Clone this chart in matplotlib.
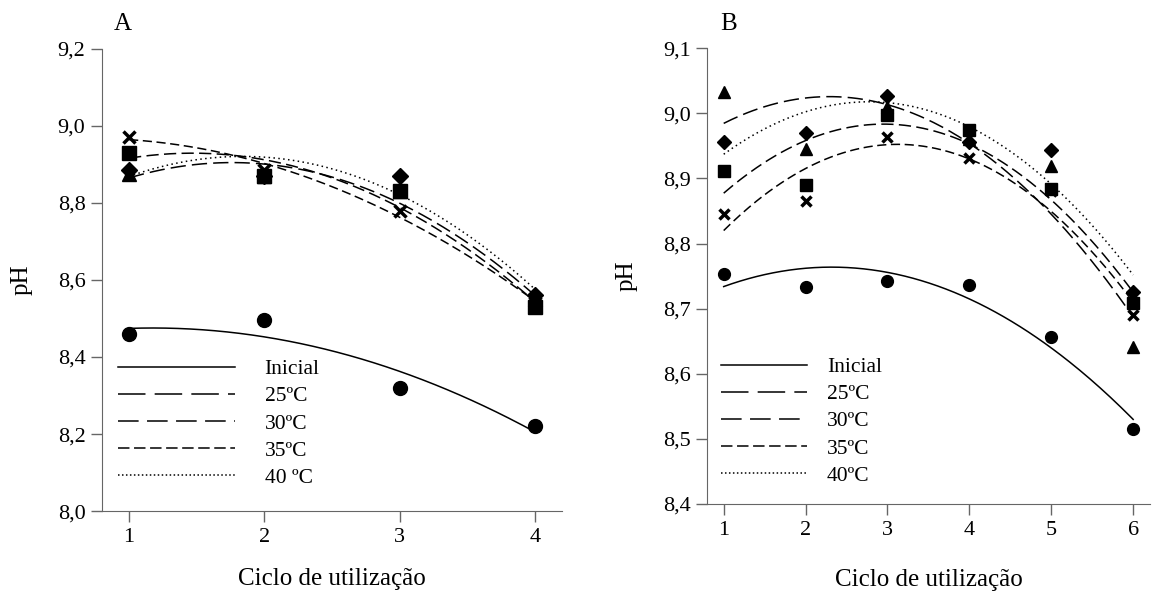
import matplotlib
matplotlib.use('Agg')
import matplotlib.pyplot as plt
from matplotlib.lines import Line2D
import numpy as np

plt.rcParams['font.family'] = ['Liberation Serif', 'DejaVu Serif']

# panel A data
ciclos_a = [1, 2, 3, 4]
inicial_a = [8.46, 8.495, 8.32, 8.22]
t25_a = [8.875, 8.87, 8.83, 8.55]
t30_a = [8.93, 8.87, 8.83, 8.53]
t35_a = [8.97, 8.885, 8.78, 8.54]
t40_a = [8.885, 8.87, 8.87, 8.56]

# panel B data
ciclos_b = [1, 2, 3, 4, 5, 6]
inicial_b = [8.753, 8.733, 8.743, 8.736, 8.656, 8.515]
t25_b = [9.032, 8.945, 9.01, 8.96, 8.919, 8.641]
t30_b = [8.912, 8.89, 8.997, 8.974, 8.883, 8.708]
t35_b = [8.846, 8.866, 8.963, 8.931, 8.88, 8.69]
t40_b = [8.956, 8.970, 9.026, 8.956, 8.944, 8.726]

labels_a = ['Inicial', '25ºC', '30ºC', '35ºC', '40 ºC']
labels_b = ['Inicial', '25ºC', '30ºC', '35ºC', '40ºC']

markers = ['o', '^', 's', 'x', 'D']
dashes = [None, (10, 4), (8, 3.5), (6, 3), (1, 2.2)]
# legend handles use longer dash patterns, as in the original
leg_dashes = [None, (18, 6), (13.5, 5.5), (7.5, 3), (1, 1.6)]


def draw(ax, x, series, labels, msize, hl, pad, anchor, xpad):
    xs = np.linspace(min(x), max(x), 200)
    handles = []
    for y, m, d, ld in zip(series, markers, dashes, leg_dashes):
        # quadratic regression curve for each series
        c = np.polyfit(x, y, 2)
        yy = np.polyval(c, xs)
        if d is None:
            ax.plot(xs, yy, color='black', lw=1.1)
        else:
            ax.plot(xs, yy, color='black', lw=1.1, dashes=d)
        if m == 'x':
            ax.plot(x, y, m, color='black', ms=msize * 0.9, mew=2.5)
        elif m == 'D':
            ax.plot(x, y, m, color='black', ms=msize * 0.8)
        else:
            ax.plot(x, y, m, color='black', ms=msize)
        h = Line2D([], [], color='black', lw=1.1)
        if ld is not None:
            h.set_dashes(ld)
        handles.append(h)
    ax.legend(handles, labels, loc='lower left', frameon=False, fontsize=15.5,
              handlelength=hl, handletextpad=pad, labelspacing=0.33,
              borderaxespad=0.0, borderpad=0.0, bbox_to_anchor=anchor)
    for s in ['top', 'right']:
        ax.spines[s].set_visible(False)
    for s in ['left', 'bottom']:
        ax.spines[s].set_color('#666666')
    ax.tick_params(direction='out', length=8, width=1, color='#666666',
                   labelsize=16, pad=4)
    ax.set_xlabel('Ciclo de utilização', fontsize=18, labelpad=xpad)
    ax.set_ylabel('pH', fontsize=18, labelpad=18)


fig = plt.figure(figsize=(11.73, 5.95), dpi=100)

ax1 = fig.add_axes([0.087, 0.141, 0.392, 0.777])
draw(ax1, ciclos_a, [inicial_a, t25_a, t30_a, t35_a, t40_a], labels_a,
     10, 5.45, 1.35, (0.035, 0.05), 15)
ax1.set_xlim(0.8, 4.2)
ax1.set_ylim(8.0, 9.2)
ax1.set_xticks([1, 2, 3, 4])
ax1.set_yticks([8.0, 8.2, 8.4, 8.6, 8.8, 9.0, 9.2])
ax1.set_yticklabels(['8,0', '8,2', '8,4', '8,6', '8,8', '9,0', '9,2'])
ax1.text(0.025, 1.04, 'A', transform=ax1.transAxes, fontsize=18)

ax2 = fig.add_axes([0.603, 0.153, 0.377, 0.766])
draw(ax2, ciclos_b, [inicial_b, t25_b, t30_b, t35_b, t40_b], labels_b,
     8.5, 4.0, 0.93, (0.03, 0.04), 21)
ax2.set_xlim(0.8, 6.2)
ax2.set_ylim(8.4, 9.1)
ax2.set_xticks([1, 2, 3, 4, 5, 6])
ax2.set_yticks([8.4, 8.5, 8.6, 8.7, 8.8, 8.9, 9.0, 9.1])
ax2.set_yticklabels(['8,4', '8,5', '8,6', '8,7', '8,8', '8,9', '9,0', '9,1'])
ax2.text(0.03, 1.04, 'B', transform=ax2.transAxes, fontsize=18)

fig.savefig('out.png', dpi=100)
